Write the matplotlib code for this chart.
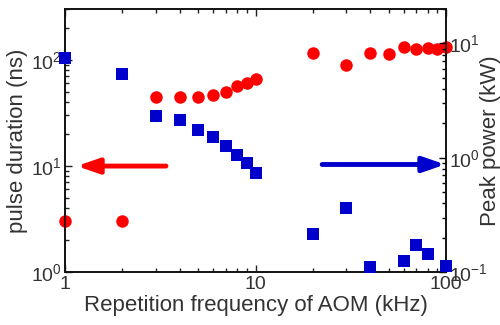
import matplotlib
matplotlib.use("Agg")
import matplotlib.pyplot as plt
from matplotlib.ticker import LogLocator, FixedLocator, FixedFormatter, LogFormatterMathtext, NullFormatter

plt.rcParams['font.family'] = ['Liberation Sans', 'DejaVu Sans']
plt.rcParams['mathtext.fontset'] = 'custom'
plt.rcParams['mathtext.rm'] = 'Liberation Sans'
plt.rcParams['mathtext.it'] = 'Liberation Sans'
plt.rcParams['mathtext.default'] = 'regular'

# Data
freq_duration = [1, 2, 3, 4, 5, 6, 7, 8, 9, 10, 20, 30, 40, 50, 60, 70, 80, 90, 100]
pulse_duration_ns = [3.0, 3.0, 44.5, 44.5, 44.5, 47, 50, 56, 60, 66,
                     116, 90, 116, 113, 131, 127, 128, 126, 131]
freq_power = [1, 2, 3, 4, 5, 6, 7, 8, 9, 10, 20, 30, 40, 60, 70, 80, 100]
peak_power_kw = [7.5, 5.46, 2.34, 2.12, 1.76, 1.52, 1.27, 1.05, 0.90, 0.74,
                 0.215, 0.36, 0.111, 0.126, 0.172, 0.144, 0.113]
x_ticks = [1, 10, 100]
x_tick_labels = ['1', '10', '100']

red = '#FF0000'
blue = '#0000CD'

fig = plt.figure(figsize=(5, 3.25), dpi=100)
ax = fig.add_axes([0.13, 0.163, 0.762, 0.809])
ax2 = ax.twinx()

ax.plot(freq_duration, pulse_duration_ns, 'o', color=red, markersize=9, markeredgewidth=0, clip_on=False, zorder=3)
ax2.plot(freq_power, peak_power_kw, 's', color=blue, markersize=9, markeredgewidth=0, clip_on=False, zorder=3)

ax.set_xscale('log')
ax.set_yscale('log')
ax2.set_yscale('log')
ax.set_xlim(1, 100)
ax.set_ylim(1, 300)
ax2.set_ylim(0.1, 20)

ax.xaxis.set_major_locator(FixedLocator(x_ticks))
ax.xaxis.set_major_formatter(FixedFormatter(x_tick_labels))
ax.xaxis.set_minor_locator(LogLocator(base=10, subs=range(2, 10)))
ax.xaxis.set_minor_formatter(NullFormatter())
for a in (ax, ax2):
    a.yaxis.set_major_locator(LogLocator(base=10, numticks=10))
    a.yaxis.set_major_formatter(LogFormatterMathtext())
    a.yaxis.set_minor_locator(LogLocator(base=10, subs=range(2, 10), numticks=10))
    a.yaxis.set_minor_formatter(NullFormatter())

ax.tick_params(axis='both', which='both', direction='in', labelsize=14, colors='#222222', labelcolor='#333333')
ax.tick_params(axis='x', which='both', top=True, pad=3)
ax.tick_params(axis='y', which='both', right=False, pad=2)
ax.tick_params(which='major', length=5, width=1)
ax.tick_params(which='minor', length=3, width=1)
ax2.tick_params(axis='y', which='both', direction='in', labelsize=14, labelcolor='#333333', pad=2)
ax2.tick_params(which='major', length=5, width=1)
ax2.tick_params(which='minor', length=3, width=1)

for a in (ax, ax2):
    for s in a.spines.values():
        s.set_linewidth(1.2)
        s.set_color('#111111')

ax.set_xlabel('Repetition frequency of AOM (kHz)', fontsize=16, color='#333333', labelpad=1)
ax.set_ylabel('pulse duration (ns)', fontsize=16, color='#333333')
ax.yaxis.set_label_coords(-0.097, 0.5)
ax2.set_ylabel('Peak power (kW)', fontsize=16, color='#333333')
ax2.yaxis.set_label_coords(1.09, 0.5)

ax.annotate('', xy=(0.031, 0.403), xytext=(0.265, 0.403), xycoords='axes fraction',
            arrowprops=dict(arrowstyle='-|>,head_length=1.3,head_width=0.45', color=red, lw=3.5, shrinkA=0, shrinkB=0))
ax.annotate('', xy=(0.998, 0.409), xytext=(0.675, 0.409), xycoords='axes fraction',
            arrowprops=dict(arrowstyle='-|>,head_length=1.3,head_width=0.45', color=blue, lw=3.5, shrinkA=0, shrinkB=0))

fig.savefig('out.png', dpi=100)
